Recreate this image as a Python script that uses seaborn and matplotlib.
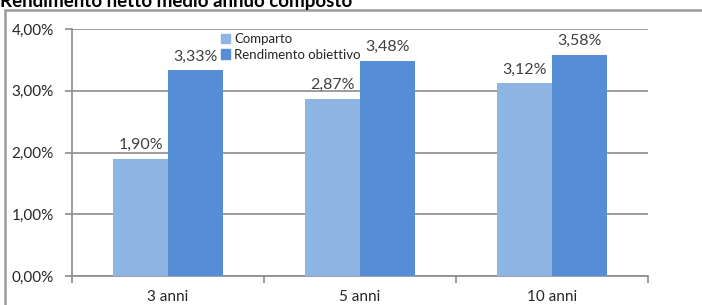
import matplotlib
matplotlib.use("Agg")
import matplotlib.pyplot as plt
import matplotlib.patches as mpatches
import pandas as pd
import seaborn as sns

periods = ["3 anni", "5 anni", "10 anni"]
comparto = [1.90, 2.87, 3.12]
obiettivo = [3.33, 3.48, 3.58]
series_names = ["Comparto", "Rendimento obiettivo"]
colors = ["#8DB4E2", "#558ED5"]
yticks = [0, 1, 2, 3, 4]
title = "Rendimento netto medio annuo composto"


def pct(v):
    return f"{v:.2f}%".replace(".", ",")


def main():
    df = pd.DataFrame({
        "periodo": periods * 2,
        "serie": [series_names[0]] * 3 + [series_names[1]] * 3,
        "valore": comparto + obiettivo,
    })

    sns.set_style("white")
    plt.rcParams["font.family"] = ["Lato", "DejaVu Sans"]

    fig = plt.figure(figsize=(7.02, 3.05), dpi=100)
    ax = fig.add_axes([72 / 702, 1 - 276 / 305, 576 / 702, 247 / 305])

    sns.barplot(data=df, x="periodo", y="valore", hue="serie",
                palette=colors, width=0.57, gap=0, saturation=1,
                linewidth=0, ax=ax, legend=False, zorder=3)

    for cont in ax.containers:
        ax.bar_label(cont, labels=[pct(b.get_height()) for b in cont],
                     padding=5, fontsize=11.5, color="#404040")

    grey = "#8C8C8C"
    ax.set_ylim(0, 4)
    ax.set_xlim(-0.5, 2.5)
    ax.set_yticks(yticks, [pct(v) for v in yticks])
    ax.yaxis.grid(True, color=grey, linewidth=1.2, zorder=0)
    ax.set_xlabel("")
    ax.set_ylabel("")

    for s in ["top", "right"]:
        ax.spines[s].set_visible(False)
    for s in ["left", "bottom"]:
        ax.spines[s].set_color(grey)
        ax.spines[s].set_linewidth(1.2)

    ax.set_xticks([-0.5, 0.5, 1.5, 2.5], minor=True)
    ax.tick_params(axis="x", which="major", length=0, pad=10,
                   labelsize=11, labelcolor="#262626")
    ax.tick_params(axis="x", which="minor", length=5, color=grey,
                   width=1.2, direction="out", bottom=True)
    ax.tick_params(axis="y", length=5, color=grey, width=1.2,
                   direction="out", left=True, pad=8,
                   labelsize=11, labelcolor="#262626")

    handles = [mpatches.Patch(color=c, label=n)
               for c, n in zip(colors, series_names)]
    ax.legend(handles=handles, loc="upper left",
              bbox_to_anchor=(0.243, 1.02), frameon=False, fontsize=9.5,
              handlelength=0.7, handleheight=0.7, handletextpad=0.3,
              labelspacing=0.25, borderpad=0.2, labelcolor="#262626")

    # outer chart frame
    frame = mpatches.Rectangle((5 / 702, -0.1), 1.1, 1.1 - 10 / 305,
                               transform=fig.transFigure, fill=False,
                               edgecolor="#9A9A9A", linewidth=1.8)
    fig.patches.append(frame)

    fig.text(0.0, 1 - 7 / 305, title, fontsize=13.5, fontweight="bold",
             va="baseline", ha="left", color="#000000")

    fig.savefig("out.png", dpi=100)


if __name__ == "__main__":
    main()
